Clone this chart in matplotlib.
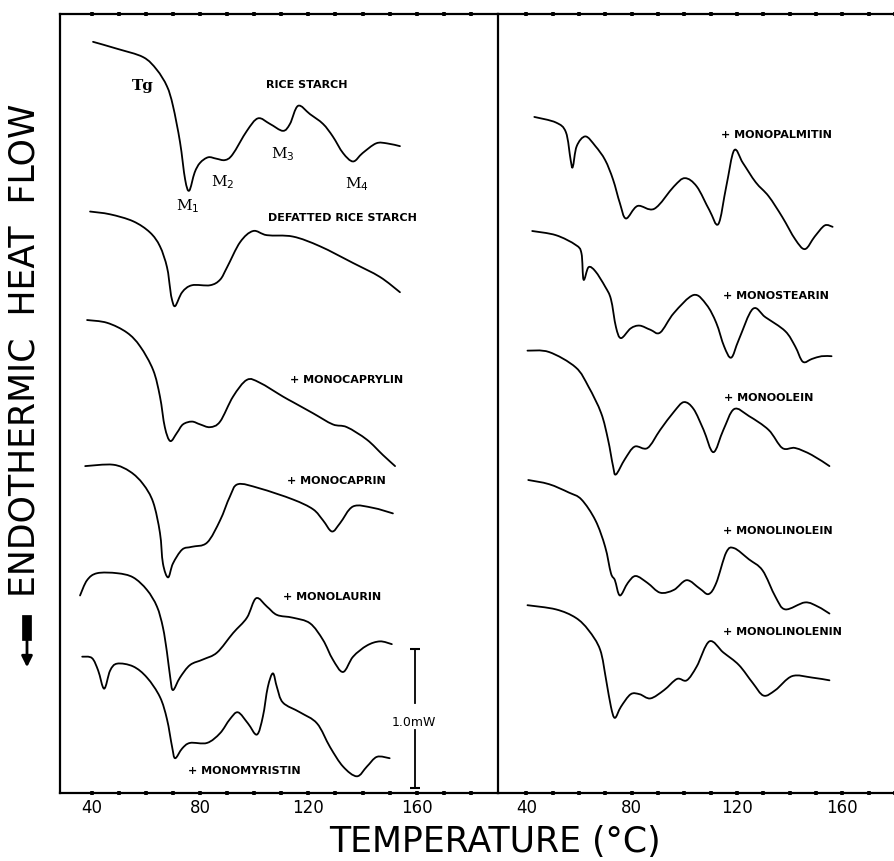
import numpy as np
import matplotlib
matplotlib.use("Agg")
import matplotlib.pyplot as plt
from matplotlib.path import Path
from matplotlib.patches import PathPatch, FancyArrowPatch

# DSC thermograms, heat flow offset in mW
# left panel
rice_T = [40.5, 49.4, 59, 64, 67.8, 70, 72.6, 74.5, 76, 78, 80, 83, 86, 89.2, 92, 97.3, 101.4, 105.8,
          110.6, 113.2, 116.2, 120.6, 125.4, 129, 132.8, 136.5, 140, 145, 149, 153.8]
rice_y = [5.40, 5.35, 5.29, 5.20, 5.08, 4.94, 4.68, 4.41, 4.33, 4.46, 4.53, 4.57, 4.56, 4.55, 4.59, 4.76, 4.85, 4.81,
          4.76, 4.81, 4.94, 4.88, 4.81, 4.72, 4.60, 4.54, 4.60, 4.67, 4.67, 4.65]

defat_T = [39.4, 46.8, 55.3, 61.5, 65.2, 67.8, 69, 69.6, 70.8, 73.4, 77, 83.7, 87.4, 90, 94.8, 99.6, 104.7,
           114.3, 124.3, 136.5, 146.4, 153.8]
defat_y = [4.18, 4.16, 4.11, 4.03, 3.93, 3.78, 3.62, 3.55, 3.50, 3.60, 3.65, 3.65, 3.69, 3.78, 3.96, 4.04, 4.01,
           4.00, 3.93, 3.81, 3.71, 3.60]

caprylin_T = [38.3, 45.7, 53, 57.9, 62.7, 65.2, 67, 69, 71.5, 73.7, 77, 80, 83.7, 87.4, 92.2, 97.3, 102, 110.6,
              114.3, 121.7, 129, 134.2, 141.6, 147.5, 152]
caprylin_y = [3.40, 3.38, 3.31, 3.21, 3.04, 2.85, 2.63, 2.53, 2.59, 2.65, 2.67, 2.65, 2.63, 2.67, 2.85, 2.97, 2.95, 2.85,
              2.81, 2.73, 2.65, 2.63, 2.54, 2.43, 2.35]

caprin_T = [37.6, 47.9, 54.2, 59, 62.7, 65.2, 66.3, 68.2, 70, 73.4, 77, 82.6, 87.4, 91, 94, 102, 114.3, 121.7,
            125.4, 128.7, 131.7, 136.5, 143.8, 151.2]
caprin_y = [2.35, 2.36, 2.31, 2.22, 2.09, 1.87, 1.65, 1.55, 1.65, 1.75, 1.77, 1.80, 1.96, 2.13, 2.22, 2.19, 2.11, 2.04,
            1.96, 1.88, 1.94, 2.06, 2.05, 2.01]

laurin_T = [35.7, 38.3, 42, 49.4, 55.3, 60.4, 64.1, 66.3, 67.8, 69, 70, 72.6, 76.3, 81.1, 86.3, 92.2, 97.3, 100.7,
            104.7, 108.4, 114.3, 120.6, 125.4, 129, 132.8, 136.5, 141.6, 146.4, 150.8]
laurin_y = [1.42, 1.53, 1.58, 1.58, 1.55, 1.46, 1.34, 1.19, 1.01, 0.83, 0.74, 0.83, 0.92, 0.96, 1.01, 1.15, 1.26, 1.40,
            1.34, 1.28, 1.26, 1.22, 1.10, 0.96, 0.87, 0.98, 1.06, 1.09, 1.07]

myristin_T = [36.5, 40.1, 42.4, 44.6, 46.8, 49.4, 55.3, 60.4, 65.2, 67.8, 69.7, 70.8, 73.4, 76.3, 82.6, 87.4, 91, 94,
              97.7, 101, 103.2, 105, 106.9, 108.4, 110.6, 116.9, 123.2, 128, 132.8, 137.9, 141.6, 145.3, 150]
myristin_y = [0.98, 0.97, 0.88, 0.75, 0.88, 0.93, 0.91, 0.83, 0.69, 0.53, 0.33, 0.25, 0.32, 0.36, 0.36, 0.43, 0.53, 0.58,
              0.50, 0.42, 0.55, 0.76, 0.86, 0.76, 0.65, 0.58, 0.50, 0.33, 0.19, 0.12, 0.19, 0.26, 0.25]

# right panel
palmitin_T = [43, 51.2, 55, 56.8, 57.6, 59.1, 62.4, 66.2, 69.9, 72.9, 75.5, 77.8, 82.2, 88.6, 96, 100.2, 104.7, 109.5,
              112.9, 115.9, 118.9, 122.2, 127.1, 132, 137.2, 142.1, 145.8, 149.5, 153.3, 156.3]
palmitin_y = [4.86, 4.82, 4.75, 4.55, 4.50, 4.65, 4.72, 4.65, 4.55, 4.41, 4.24, 4.13, 4.22, 4.20, 4.36, 4.42, 4.36, 4.19,
              4.09, 4.36, 4.62, 4.53, 4.39, 4.29, 4.14, 3.98, 3.91, 4.00, 4.08, 4.07]

stearin_T = [42.2, 51.2, 58.7, 60.9, 61.7, 63.6, 66.2, 69.9, 72.1, 74, 75.9, 79.6, 83, 87.1, 90.8, 96, 103.5, 108.4,
             112.1, 115.1, 117.8, 120.7, 126, 130.8, 138.3, 142.1, 145, 148.4, 152.1, 155.9]
stearin_y = [4.04, 4.01, 3.94, 3.88, 3.69, 3.78, 3.75, 3.64, 3.55, 3.35, 3.27, 3.34, 3.36, 3.33, 3.31, 3.45, 3.58, 3.51,
             3.38, 3.21, 3.13, 3.26, 3.48, 3.42, 3.32, 3.21, 3.10, 3.12, 3.14, 3.14]

olein_T = [40.4, 48.6, 58.7, 63.6, 68.4, 71, 72.9, 74, 77.4, 81.1, 86, 90.8, 96, 99.8, 103.5, 107.3, 111, 114.8,
           118.9, 124.5, 132, 137.2, 142.1, 148.4, 155.1]
olein_y = [3.18, 3.17, 3.06, 2.92, 2.73, 2.54, 2.35, 2.29, 2.40, 2.49, 2.48, 2.61, 2.74, 2.81, 2.76, 2.61, 2.45, 2.61,
           2.76, 2.71, 2.61, 2.48, 2.48, 2.43, 2.35]

linolein_T = [40.7, 48.6, 56.1, 60.9, 66.2, 69.9, 72.1, 73.6, 75.5, 78.5, 81.5, 86, 90.8, 96, 100.9, 105.8, 109.2,
              112.1, 115.9, 118.9, 124.5, 129.7, 134.6, 138.3, 145.8, 150.7, 155.1]
linolein_y = [2.25, 2.22, 2.16, 2.11, 1.96, 1.77, 1.58, 1.53, 1.42, 1.51, 1.56, 1.51, 1.44, 1.46, 1.53, 1.47, 1.43,
              1.51, 1.73, 1.76, 1.68, 1.60, 1.41, 1.32, 1.37, 1.34, 1.29]

linolenin_T = [40.4, 51.2, 58.7, 63.6, 68, 70.3, 72.1, 73.6, 75.9, 79.6, 83, 87.1, 92.3, 97.2, 100.9, 104.7, 109.5,
               114.8, 120.7, 126, 130.1, 134.6, 140.9, 148.4, 155.1]
linolenin_y = [1.35, 1.32, 1.26, 1.17, 1.03, 0.81, 0.62, 0.54, 0.62, 0.71, 0.71, 0.68, 0.74, 0.82, 0.81, 0.91, 1.09,
               1.01, 0.92, 0.79, 0.70, 0.74, 0.84, 0.83, 0.81]

left_curves = [(rice_T, rice_y), (defat_T, defat_y), (caprylin_T, caprylin_y),
               (caprin_T, caprin_y), (laurin_T, laurin_y), (myristin_T, myristin_y)]
right_curves = [(palmitin_T, palmitin_y), (stearin_T, stearin_y), (olein_T, olein_y),
                (linolein_T, linolein_y), (linolenin_T, linolenin_y)]

left_labels = ["+ MONOCAPRYLIN", "+ MONOCAPRIN", "+ MONOLAURIN", "+ MONOMYRISTIN"]
left_label_pos = [(113.2, 2.97), (112.1, 2.24), (110.6, 1.41), (75.6, 0.16)]
right_labels = ["+ MONOPALMITIN", "+ MONOSTEARIN", "+ MONOOLEIN", "+ MONOLINOLEIN", "+ MONOLINOLENIN"]
right_label_pos = [(114.0, 4.73), (114.8, 3.57), (115.1, 2.84), (114.8, 1.88), (114.8, 1.16)]

peak_names = ["M$_1$", "M$_2$", "M$_3$", "M$_4$"]
peak_pos = [(75.6, 4.22), (88.5, 4.39), (110.6, 4.59), (137.9, 4.38)]

tick_major = [40, 80, 120, 160]
tick_minor = np.arange(40, 190, 10)


def smooth_curve(ax, T, y):
    # draw the read points as one smooth bezier path (catmull-rom handles)
    p = np.column_stack([T, y])
    ext = np.vstack([p[0], p, p[-1]])
    verts = [p[0]]
    codes = [Path.MOVETO]
    for i in range(len(p) - 1):
        a, b, c, d = ext[i], ext[i + 1], ext[i + 2], ext[i + 3]
        verts += [b + (c - a) / 6, c - (d - b) / 6, c]
        codes += [Path.CURVE4] * 3
    ax.add_patch(PathPatch(Path(verts, codes), fill=False, lw=1.3, edgecolor="black",
                           joinstyle="round", capstyle="round"))


W, H = 895, 861
fig = plt.figure(figsize=(W / 100, H / 100), dpi=100)
bottom, top = 793, 14
ax1 = fig.add_axes([60 / W, 1 - bottom / H, (498 - 60) / W, (bottom - top) / H])
ax2 = fig.add_axes([498 / W, 1 - bottom / H, (W - 498) / W, (bottom - top) / H])
ax2.patch.set_alpha(0)

for ax, xl in [(ax1, (28.3, 190.0)), (ax2, (29.2, 177.6))]:
    ax.set_xlim(*xl)
    ax.set_ylim(0, 5.60)
    ax.set_yticks([])
    ax.set_xticks(tick_major)
    ax.set_xticks(tick_minor, minor=True)
    ax.set_xticklabels([str(t) for t in tick_major])
    ax.tick_params(axis="x", which="both", direction="inout", length=3, width=2.6,
                   top=True, labelsize=12, pad=3)
    for s in ax.spines.values():
        s.set_linewidth(1.6)

ax2.spines["right"].set_visible(False)
ax1.spines["right"].set_visible(False)

for T, y in left_curves:
    smooth_curve(ax1, T, y)
for T, y in right_curves:
    smooth_curve(ax2, T, y)

# annotations on left panel
ax1.text(59, 5.08, "Tg", fontsize=11, fontweight="bold", ha="center", va="center", family="DejaVu Serif")
ax1.text(119.5, 5.09, "RICE STARCH", fontsize=8, fontweight="bold", ha="center", va="center")
ax1.text(132.4, 4.13, "DEFATTED RICE STARCH", fontsize=8, fontweight="bold", ha="center", va="center")
for name, (x, y) in zip(peak_names, peak_pos):
    ax1.text(x, y, name, fontsize=11, ha="center", va="center", family="DejaVu Serif")
for name, (x, y) in zip(left_labels, left_label_pos):
    ax1.text(x, y, name, fontsize=8, fontweight="bold", ha="left", va="center")
for name, (x, y) in zip(right_labels, right_label_pos):
    ax2.text(x, y, name, fontsize=8, fontweight="bold", ha="left", va="center")

# 1.0 mW scale bar
ax1.plot([159.3, 159.3], [1.036, 0.65], color="black", lw=1.3)
ax1.plot([159.3, 159.3], [0.45, 0.036], color="black", lw=1.3)
ax1.plot([159.3], [1.036], marker="_", ms=7, mew=1.5, color="black")
ax1.plot([159.3], [0.036], marker="_", ms=7, mew=1.5, color="black")
ax1.text(159.0, 0.51, "1.0mW", fontsize=9, ha="center", va="center")

# axis titles
fig.text(495 / W, 1 - 842 / H, "TEMPERATURE (°C)", fontsize=25, ha="center", va="center")
fig.text(25 / W, 1 - 350 / H, "ENDOTHERMIC  HEAT  FLOW", fontsize=25, rotation=90,
         ha="center", va="center")
fig.add_artist(plt.Line2D([27 / W, 27 / W], [1 - 620 / H, 1 - 636 / H], color="black", lw=7))
fig.add_artist(FancyArrowPatch((27 / W, 1 - 632 / H), (27 / W, 1 - 670 / H),
                               transform=fig.transFigure, arrowstyle="-|>",
                               mutation_scale=16, lw=2, color="black"))

fig.savefig("out.png", dpi=100)
